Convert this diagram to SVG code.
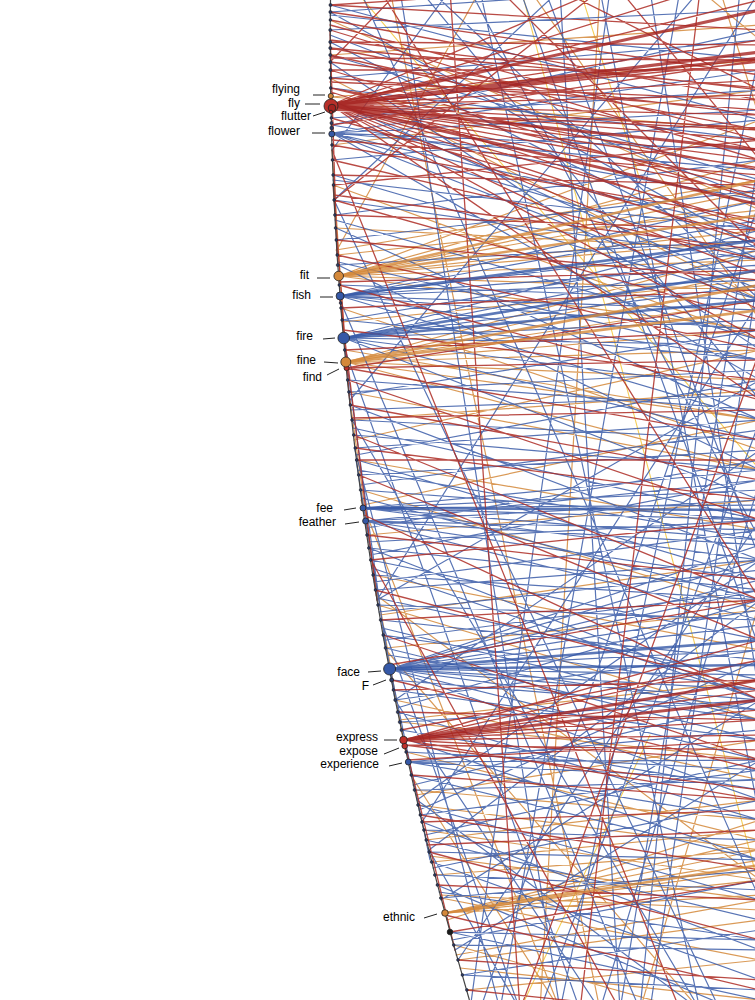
<svg xmlns="http://www.w3.org/2000/svg" width="755" height="1000" viewBox="0 0 755 1000">
<style>
.c{fill:none;stroke-linecap:round}
.b1{stroke:#3b5ca8;stroke-width:1.2;opacity:.85}
.b2{stroke:#3558a6;stroke-width:2.6;opacity:.8}
.r1{stroke:#ad2b24;stroke-width:1.3;opacity:.85}
.r2{stroke:#a52320;stroke-width:3;opacity:.8}
.o1{stroke:#d4883a;stroke-width:1.2;opacity:.85}
.o2{stroke:#d4883a;stroke-width:2.6;opacity:.8}
.y1{stroke:#f5cf5a;stroke-width:1.1}
.lbl{font-family:"Liberation Sans",Arial,Helvetica,sans-serif;font-size:12px;fill:#000;text-anchor:end}
.ld{stroke:#222;stroke-width:1}
.n{stroke:#222;stroke-width:.8}
.d{fill:#2c3a66;stroke:#1a1a1a;stroke-width:.5}
</style>
<rect width="755" height="1000" fill="#fff"/>
<g id="connectors" class="c">
<path class="y1" d="M355 -10L760 470M524 0L760 890M650 735L520 1010M580 -10L640 180"/>
<path class="o1" d="M330 20L760 210M330 55L760 25M330 78L760 300M331 97L760 60M331 97L760 130M332 145L760 90M333 185L760 340M336 228L760 250M337 255L760 210
M339 276L760 160M339 276L760 190M339 276L760 200M339 276L760 230M339 276L760 240M339 276L760 260M339 276L760 290M339 276L760 330M339 276L760 120
M341 308L760 450M345 350L760 420
M346 362L760 250M346 362L760 270M346 362L760 300M346 362L760 330M346 362L760 350M346 362L760 380M346 362L760 420M346 362L760 470
M349 392L760 470M352 420L760 390M357 460L760 530M361 490L760 610M367 535L760 500M373 575L760 650M378 605L760 720M386 648L760 610M395 700L760 780M400 722L760 760M406 752L760 840M415 790L760 820M418 805L760 850M424 830L760 880M426 840L760 800M432 862L760 830M435 875L760 850M441 898L760 960
M445 913L760 840M445 913L760 850M445 913L760 860M445 913L760 870M445 913L760 880M445 913L760 895
M454 945L760 1030M458 960L760 920M467 990L760 960
M337 250L480 -10M361 500L560 1010M414 780L560 1010M386 650L700 1010
M600 -10L540 1010M390 -10L600 1010M530 -10L760 320M720 -10L760 120M760 600L640 1010M700 -10L760 40
M350 400L378 605M365 520L405 750M332 150L345 350M336 250L760 180M342 322L760 280M354 440L760 350M363 505L760 420M380 615L760 560M399 720L760 680M416 795L760 740M430 856L760 900M440 895L760 910M447 920L760 820M456 955L760 900M460 968L760 1000M376 595L760 880"/>
<path class="b1" d="M330 5L760 120M330 12L650 -10M330 12L760 250M330 30L760 10M330 42L760 260M330 55L760 180M330 62L760 350M330 78L760 40M331 88L760 140M331 118L760 90M332 125L760 200M332 125L760 30
M332 133L760 110M332 133L760 150M332 133L760 170M332 133L760 230M332 133L760 260M332 133L760 300M332 133L760 380M332 133L760 70
M332 160L760 120M333 175L760 300M334 200L760 260M335 215L760 160M336 228L760 420M336 240L760 190M338 265L760 240M338 265L760 470M339 285L760 300
M340 296L760 200M340 296L760 220M340 296L760 245M340 296L760 265M340 296L760 280M340 296L760 310M340 296L760 330M340 296L760 360M340 296L760 420
M342 320L760 360M342 320L760 250
M344 338L760 230M344 338L760 255M344 338L760 285M344 338L760 320M344 338L760 345M344 338L760 390M344 338L760 440M344 338L760 500
M348 380L760 410M349 392L760 370M350 405L760 560M352 420L760 440M354 435L760 470M355 448L760 420M357 460L760 580M359 475L760 450M361 490L760 520
M363 508L760 470M363 508L760 490M363 508L760 505M363 508L760 520M363 508L760 540M363 508L760 560
M365 521L760 480M365 521L760 500M365 521L760 530M365 521L760 545M365 521L760 580M365 521L760 620
M369 548L760 590M369 548L760 700M371 560L760 640M373 575L760 600M376 590L760 560M378 605L760 620M381 620L760 660M383 635L760 690M386 648L760 740
M390 669L760 560M390 669L760 590M390 669L760 610M390 669L760 625M390 669L760 650M390 669L760 675M390 669L760 690M390 669L760 700M390 669L760 720M390 669L760 760M390 669L760 800M390 669L760 545M390 669L760 580
M392 680L760 710M393 690L760 740M395 700L760 650M398 712L760 820M400 722L760 700M401 730L760 790M406 752L760 770
M408 762L760 730M408 762L760 760M408 762L760 780M408 762L760 820
M411 775L760 860M415 790L760 780M418 805L760 900M420 815L760 770M422 822L760 950M424 830L760 840M426 840L760 920M429 852L760 860M432 862L760 980M435 875L760 890M437 885L760 1020M441 898L760 870M450 932L760 940M450 932L760 1000M454 945L760 950M462 975L760 990M462 975L760 930
M340 300L640 1010M352 420L700 1010M381 620L520 1010M395 700L600 1010M429 850L520 1010M334 200L720 1010M345 350L580 1010M355 450L500 1010M417 800L700 1010
M334 200L560 -10M350 400L700 -10M332 150L450 -10M377 600L760 -10
M377 600L760 380M395 700L760 450M417 800L760 560M441 900L760 700M429 850L760 600M455 950L760 760M422 822L760 300M458 960L760 520
M400 -10L560 1010M480 -10L700 1010M560 -10L620 1010M650 -10L760 700M740 -10L640 1010M420 -10L760 400M360 -10L760 900M470 -10L760 540M680 -10L500 1010M760 50L560 1010M760 200L480 1010M760 480L600 1010M600 -10L760 820M760 260L650 1010M520 -10L760 650
M349 395L760 330M351 410L760 395M353 428L760 520M356 455L760 380M358 470L760 540M360 485L760 430M362 498L760 600M366 528L760 460M368 542L760 520M370 555L760 480M372 568L760 700M374 582L760 530M377 598L760 680M379 612L760 570M382 628L760 720M384 640L760 590M387 655L760 710M338 262L760 360M335 220L760 340M333 180L760 230M331 100L760 290M330 35L760 200M330 15L760 60
M397 708L760 600M403 738L760 860M413 785L760 700M419 810L760 660M425 835L760 760M433 868L760 800M439 892L760 940M452 940L760 880
M430 -10L760 300M610 -10L470 1010M760 150L620 1010M760 420L540 1010M545 -10L760 560
M356 460L395 700M386 648L430 860M345 350L386 650"/>
<path class="r1" d="M330 5L560 -10M330 5L760 30M330 12L760 75M330 20L760 100M330 30L760 160M330 42L760 45M330 48L760 130M330 48L760 88M330 62L760 115M330 70L760 200M330 70L760 70M331 88L760 170M330 55L760 150M330 78L760 110M331 125L760 60M331 88L760 190M330 62L400 -10
M331 105L760 0M331 105L760 40M331 105L760 62M331 105L760 80M331 105L760 95M331 105L760 115M331 105L760 128M331 105L760 140M331 105L760 160M331 105L760 168M331 105L760 182M331 105L760 195M331 105L760 225M331 105L760 245M331 105L760 275M331 105L760 310M331 105L760 340M331 105L760 400M331 105L700 -10M331 105L600 -10
M331 118L760 240M332 145L760 220M332 160L760 260M333 175L760 185M333 185L760 140M334 200L760 320M335 215L760 230M336 240L760 280M337 255L760 350M339 285L760 400M341 308L760 290M345 350L760 330
M346 368L760 360M346 368L760 440M346 368L760 300
M348 380L760 520M350 405L760 480M354 435L760 600M355 448L760 500M359 475L760 640M367 535L760 580M371 560L760 520M375 590L760 690M381 620L760 600M383 635L760 760M392 680L760 770M393 690L760 680M398 712L760 720M401 730L760 660
M404 740L760 640M404 740L760 660M404 740L760 690M404 740L760 710M404 740L760 720M404 740L760 735M404 740L760 760M404 740L760 800
M405 745L760 750M405 745L760 790M411 775L760 800M420 815L760 870M422 822L760 810M429 852L760 940M437 885L760 900M450 932L760 880M458 960L760 980M467 990L760 1020
M334 200L600 -10M371 560L620 1010M332 150L680 1010
M450 -10L520 1010M700 -10L580 1010M380 -10L760 600M500 -10L760 250M620 -10L760 160M760 350L520 1010M560 -10L760 90
M330 25L760 140M330 40L760 90M330 58L760 60M330 82L760 100M331 92L760 230M331 110L760 130M332 140L760 175M334 195L760 250M339 282L760 270M343 330L760 380M352 418L760 410M364 515L760 700M389 665L760 600M408 760L760 740M427 845L760 830M445 915L760 990
M340 300L377 600M333 185L350 405M404 740L455 950M330 30L337 255M356 460L760 460"/>
<path class="b2" d="M344 338L760 270M344 338L760 300M390 669L760 640M390 669L760 665M340 296L760 240M363 508L760 510"/>
<path class="o2" d="M339 276L760 180M339 276L760 215M346 362L760 285M346 362L760 310M445 913L760 865"/>
<path class="r2" d="M331 105L760 52M331 105L760 58M331 105L760 150M331 105L760 205M331 105L760 10M404 740L760 680M404 740L760 700"/>
</g>
<path id="rim" d="M330.5 0A3393.3 3393.3 0 0 0 469.4 1000" fill="none" stroke="#444" stroke-width="1.2"/>
<g id="minor-nodes">
<circle class="d" cx="330.5" cy="5" r="1.6"/><circle class="d" cx="330.4" cy="12" r="1.6"/><circle class="d" cx="330.4" cy="20" r="1.4"/><circle class="d" cx="330.3" cy="30" r="1.6"/><circle class="d" cx="330.3" cy="42" r="1.6"/><circle class="d" cx="330.3" cy="48" r="1.6"/><circle class="d" cx="330.3" cy="55" r="1.6"/><circle class="d" cx="330.4" cy="62" r="1.6" fill="#8a4a3a"/><circle class="d" cx="330.4" cy="70" r="1.6"/><circle class="d" cx="330.5" cy="78" r="1.4"/><circle class="d" cx="330.7" cy="88" r="1.4"/>
<circle class="d" cx="331.4" cy="118" r="1.4"/><circle class="d" cx="331.5" cy="123" r="1.6" fill="#3558a6"/><circle class="d" cx="331.7" cy="128" r="1.9" fill="#3558a6"/><circle class="d" cx="332" cy="145" r="1.4"/><circle class="d" cx="332.5" cy="160" r="1.4"/><circle class="d" cx="333.1" cy="175" r="1.4"/><circle class="d" cx="333.5" cy="185" r="1.4"/><circle class="d" cx="334.1" cy="200" r="1.4"/><circle class="d" cx="334.9" cy="215" r="1.4"/><circle class="d" cx="335.6" cy="228" r="1.4"/><circle class="d" cx="336.3" cy="240" r="1.4"/><circle class="d" cx="337.2" cy="255" r="1.4"/><circle class="d" cx="337.8" cy="265" r="1.6" fill="#a52320"/>
<circle class="d" cx="339.3" cy="285" r="1.4"/><circle class="d" cx="340.6" cy="303" r="1.4" fill="#a52320"/><circle class="d" cx="341" cy="308" r="1.4"/><circle class="d" cx="342.1" cy="320" r="1.4"/><circle class="d" cx="344.7" cy="350" r="1.4"/><circle class="d" cx="347.7" cy="380" r="1.4"/><circle class="d" cx="348.9" cy="392" r="1.4"/><circle class="d" cx="350.3" cy="405" r="1.4"/><circle class="d" cx="352" cy="420" r="1.4"/><circle class="d" cx="353.7" cy="435" r="1.4"/><circle class="d" cx="355.2" cy="448" r="1.4"/><circle class="d" cx="356.7" cy="460" r="1.4"/><circle class="d" cx="358.7" cy="475" r="1.4"/><circle class="d" cx="360.6" cy="490" r="1.4"/>
<circle class="d" cx="367" cy="535" r="1.4"/><circle class="d" cx="368.8" cy="548" r="1.4"/><circle class="d" cx="370.7" cy="560" r="1.4"/><circle class="d" cx="373.1" cy="575" r="1.4"/><circle class="d" cx="375.5" cy="590" r="1.4"/><circle class="d" cx="378" cy="605" r="1.4"/><circle class="d" cx="380.6" cy="620" r="1.4"/><circle class="d" cx="383.2" cy="635" r="1.4"/><circle class="d" cx="385.5" cy="648" r="1.4"/>
<circle class="d" cx="393.4" cy="690" r="1.4"/><circle class="d" cx="395.3" cy="700" r="1.6" fill="#a52320"/><circle class="d" cx="397.8" cy="712" r="1.6" fill="#a52320"/><circle class="d" cx="399.8" cy="722" r="1.6" fill="#a52320"/><circle class="d" cx="401.5" cy="730" r="1.6"/><circle class="d" cx="406.1" cy="752" r="1.4"/>
<circle class="d" cx="411.2" cy="775" r="1.4"/><circle class="d" cx="414.5" cy="790" r="1.4"/><circle class="d" cx="418" cy="805" r="1.4"/><circle class="d" cx="420.3" cy="815" r="1.4"/><circle class="d" cx="422" cy="822" r="1.4"/><circle class="d" cx="423.9" cy="830" r="1.4"/><circle class="d" cx="426.2" cy="840" r="1.4"/><circle class="d" cx="429.1" cy="852" r="1.4" fill="#5a7a3a"/><circle class="d" cx="431.6" cy="862" r="1.4"/><circle class="d" cx="434.8" cy="875" r="1.4" fill="#d4883a"/><circle class="d" cx="437.4" cy="885" r="1.4"/><circle class="d" cx="440.8" cy="898" r="1.4"/>
<circle class="d" cx="453.7" cy="945" r="1.4"/><circle class="d" cx="458" cy="960" r="1.4" fill="#d4883a"/><circle class="d" cx="462.4" cy="975" r="1.4"/><circle class="d" cx="466.9" cy="990" r="1.4" fill="#d4883a"/>
</g>
<g id="node-flying"><circle class="n" cx="330.8" cy="96" r="2.6" fill="#d4883a"/><line class="ld" x1="313" y1="95" x2="325" y2="95"/><text class="lbl" x="300" y="93">flying</text></g>
<g id="node-fly"><circle class="n" cx="331" cy="106" r="7" fill="#b8302a"/><circle class="n" cx="332" cy="108" r="3.8" fill="#a52320"/><line class="ld" x1="305" y1="104" x2="320" y2="104"/><text class="lbl" x="300" y="106.5">fly</text></g>
<g id="node-flutter"><circle class="n" cx="331" cy="112" r="1.8" fill="#a52320"/><line class="ld" x1="313" y1="116" x2="325" y2="112"/><text class="lbl" x="311" y="120">flutter</text></g>
<g id="node-flower"><circle class="n" cx="331.8" cy="134" r="3" fill="#3558a6"/><line class="ld" x1="312" y1="133" x2="325" y2="133"/><text class="lbl" x="300" y="135">flower</text></g>
<g id="node-fit"><circle class="n" cx="338.7" cy="276" r="4.8" fill="#d4883a"/><line class="ld" x1="317" y1="278" x2="330" y2="278"/><text class="lbl" x="309" y="279">fit</text></g>
<g id="node-fish"><circle class="n" cx="340.1" cy="296" r="4" fill="#3558a6"/><line class="ld" x1="320" y1="297" x2="333" y2="297"/><text class="lbl" x="311" y="299">fish</text></g>
<g id="node-fire"><circle class="n" cx="343.7" cy="338" r="5.8" fill="#3558a6"/><line class="ld" x1="323" y1="339" x2="335" y2="338"/><text class="lbl" x="313" y="340">fire</text></g>
<g id="node-find"><circle class="n" cx="346.6" cy="368" r="2.6" fill="#c0302a"/><line class="ld" x1="327" y1="375" x2="339" y2="369"/><text class="lbl" x="322" y="381">find</text></g>
<g id="node-fine"><circle class="n" cx="345.8" cy="362" r="5" fill="#d4883a"/><line class="ld" x1="324" y1="362" x2="338" y2="363"/><text class="lbl" x="316" y="364">fine</text></g>
<g id="node-fee"><circle class="n" cx="363" cy="508" r="3" fill="#3558a6"/><line class="ld" x1="344" y1="510" x2="356" y2="508"/><text class="lbl" x="333" y="512">fee</text></g>
<g id="node-feather"><circle class="n" cx="365.6" cy="521" r="3" fill="#3558a6"/><line class="ld" x1="345" y1="524" x2="359" y2="522"/><text class="lbl" x="336" y="526">feather</text></g>
<g id="node-face"><circle class="n" cx="389.6" cy="669" r="6" fill="#3558a6"/><line class="ld" x1="368" y1="672" x2="381" y2="671"/><text class="lbl" x="360" y="676">face</text></g>
<g id="node-F"><circle class="n" cx="391.7" cy="680" r="2" fill="#2c3a66"/><line class="ld" x1="373" y1="685" x2="386" y2="680"/><text class="lbl" x="369" y="690">F</text></g>
<g id="node-expose"><circle class="n" cx="404.7" cy="746" r="2.8" fill="#c0302a"/><line class="ld" x1="384" y1="754" x2="399" y2="748"/><text class="lbl" x="378" y="754.5">expose</text></g>
<g id="node-express"><circle class="n" cx="403.5" cy="740" r="3.8" fill="#c0302a"/><line class="ld" x1="384" y1="740" x2="397" y2="740"/><text class="lbl" x="378" y="741">express</text></g>
<g id="node-experience"><circle class="n" cx="408.3" cy="762" r="3" fill="#3558a6"/><line class="ld" x1="389" y1="766" x2="402" y2="763"/><text class="lbl" x="379" y="768">experience</text></g>
<g id="node-ethnic"><circle class="n" cx="445" cy="913" r="3.3" fill="#d4883a"/><line class="ld" x1="424" y1="918" x2="437" y2="914"/><text class="lbl" x="415" y="921">ethnic</text></g>
<g id="node-932"><circle class="n" cx="450" cy="932" r="2.8" fill="#1a1a1a"/></g>
</svg>
